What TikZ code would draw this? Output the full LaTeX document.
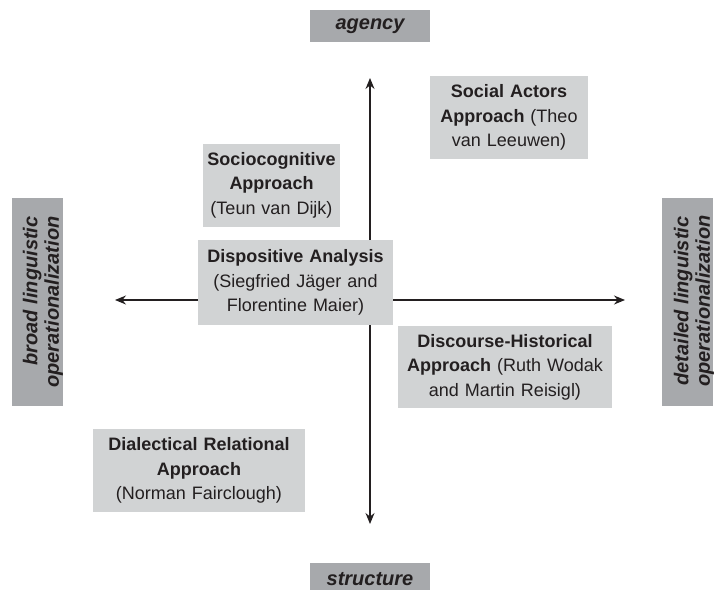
\documentclass[tikz,border=0pt]{standalone}
\usepackage{fontspec}
\setmainfont{Liberation Sans}
\usetikzlibrary{arrows.meta}
\definecolor{boxgray}{HTML}{D1D3D4}
\definecolor{axisgray}{HTML}{A7A9AC}
\definecolor{inkdark}{HTML}{231F20}
\begin{document}
\begin{tikzpicture}
[x=1pt, y=-1pt, inkdark]
\tikzstyle{approach}=[fill=boxgray, inner sep=0pt, align=center, font=\fontsize{18}{24.5}\selectfont]
\tikzstyle{pole}=[fill=axisgray, inner sep=0pt, align=center, font=\fontsize{20}{21}\selectfont\bfseries\itshape]
\tikzstyle{polebar}=[fill=axisgray, inner sep=0pt, minimum width=51pt, minimum height=208pt]
\tikzstyle{poletext}=[inner sep=0pt, rotate=90, font=\fontsize{20}{21.5}\selectfont\bfseries\itshape]
\tikzstyle{axis}=[line width=1.3pt, {Stealth[length=11pt,width=9pt]}-{Stealth[length=11pt,width=9pt]}]
\useasboundingbox (0,0) rectangle (714,589);

% ends of the two axes
\coordinate (N) at (370,78);
\coordinate (S) at (370,524);
\coordinate (W) at (115,300);
\coordinate (E) at (625,300);
\draw[axis] (S)--(N);
\draw[axis] (W)--(E);

% poles
\node[pole, minimum width=120pt, minimum height=32pt]	(agency)	at (370,26)	{agency};
\node[pole, minimum width=120pt, minimum height=32pt]	(structure)	at (370,579)	{structure};
\node[polebar]	(broad)	at (37.5,302)	{};
\node[poletext, align=right]	(broadtext)	at (43,302)	{broad linguistic\\operationalization};
\node[polebar]	(detailed)	at (687.5,302)	{};
\node[poletext, align=center]	(detailedtext)	at (694,301)	{detailed linguistic\\operationalization};

% approaches
\node[approach, text width=158pt, minimum height=83pt]	(sca)	at (509,117.5)	{\textbf{Social Actors}\\\textbf{Approach} (Theo\\van Leeuwen)};
\node[approach, text width=137pt, minimum height=83pt]	(sc)	at (271.5,185)	{\textbf{Sociocognitive}\\\textbf{Approach}\\(Teun van Dijk)};
\node[approach, text width=195pt, minimum height=85pt]	(da)	at (295.5,282.5)	{\textbf{Dispositive Analysis}\\(Siegfried Jäger and\\Florentine Maier)};
\node[approach, text width=214pt, minimum height=82pt]	(dha)	at (505,367)	{\textbf{Discourse-Historical}\\\textbf{Approach} (Ruth Wodak\\and Martin Reisigl)};
\node[approach, text width=212pt, minimum height=83pt]	(dra)	at (199,470.5)	{\textbf{Dialectical Relational}\\\textbf{Approach}\\(Norman Fairclough)};
\end{tikzpicture}
\end{document}
